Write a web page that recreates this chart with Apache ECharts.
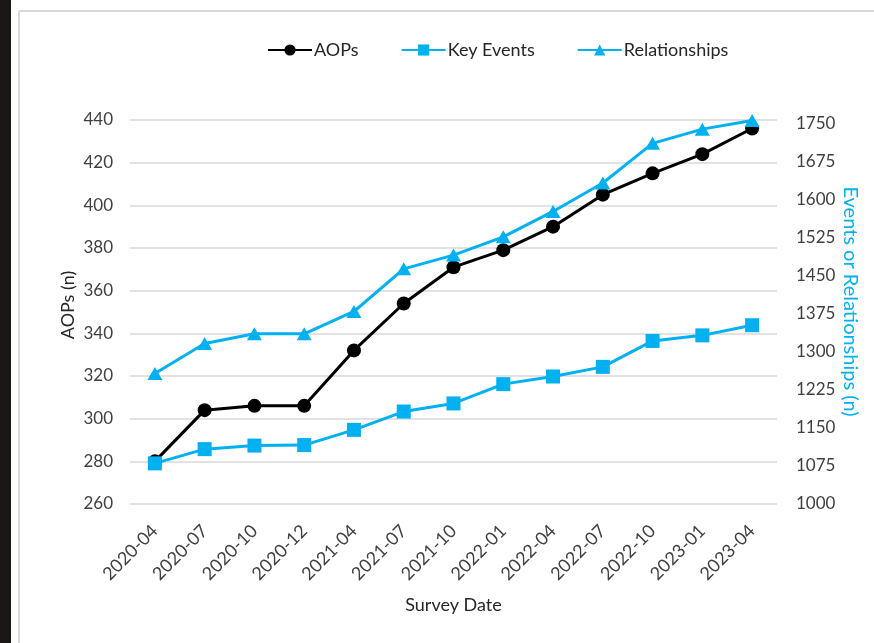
<!DOCTYPE html>
<html>
<head>
<meta charset="utf-8">
<title>AOP survey</title>
<script src="https://cdn.jsdelivr.net/npm/echarts@6/dist/echarts.min.js"></script>
<style>
  html, body { margin: 0; padding: 0; background: #fff; }
  #chart { width: 874px; height: 643px; }
</style>
</head>
<body>
<div id="chart"></div>
<script>
// survey dates (x categories)
var surveyDates = ['2020-04', '2020-07', '2020-10', '2020-12', '2021-04', '2021-07', '2021-10',
  '2022-01', '2022-04', '2022-07', '2022-10', '2023-01', '2023-04'];

// left axis
var aops = [280, 304, 306, 306, 332, 354, 371, 379, 390, 405, 415, 424, 436];
// right axis
var keyEvents = [1080, 1108, 1115, 1116, 1146, 1182, 1198, 1236, 1251, 1270, 1321, 1332, 1352];
var relationships = [1257, 1316, 1335, 1335, 1379, 1463, 1490, 1526, 1576, 1632, 1710, 1738, 1755];

var leftTicks = { min: 260, max: 440, step: 20 };
var rightTicks = { min: 1000, max: 1756, step: 75 };

var blue = '#00b0f0';
var font = 'Lato, "Open Sans", sans-serif';

var chart = echarts.init(document.getElementById('chart'));

chart.setOption({
  backgroundColor: '#fff',
  animation: false,
  textStyle: { fontFamily: font },
  // frame of the screenshot: dark strip on the left and thin grey border
  graphic: [
    { type: 'rect', shape: { x: 0, y: 0, width: 11, height: 643 }, style: { fill: '#1a1714' } },
    { type: 'line', shape: { x1: 19, y1: 11, x2: 19, y2: 643 }, style: { stroke: '#d9d9d9', lineWidth: 2 } },
    { type: 'line', shape: { x1: 19, y1: 11, x2: 874, y2: 11 }, style: { stroke: '#d9d9d9', lineWidth: 2 } }
  ],
  legend: {
    left: 262,
    top: 36,
    itemWidth: 44,
    itemHeight: 14,
    itemGap: 42,
    textStyle: { fontSize: 18, color: '#262626', padding: [0, 0, 0, -3] },
    data: ['AOPs', 'Key Events', 'Relationships']
  },
  grid: {
    left: 130,
    right: 97,
    top: 120,
    bottom: 139
  },
  xAxis: {
    type: 'category',
    data: surveyDates,
    name: 'Survey Date',
    nameLocation: 'middle',
    nameGap: 92,
    nameTextStyle: { fontSize: 18, color: '#262626' },
    axisLine: { show: false },
    axisTick: { show: false },
    axisLabel: { rotate: 45, fontSize: 18, color: '#404040', margin: 24 }
  },
  yAxis: [
    {
      type: 'value',
      min: leftTicks.min,
      max: leftTicks.max,
      interval: leftTicks.step,
      name: 'AOPs (n)',
      nameLocation: 'middle',
      nameGap: 53,
      nameMoveOverlap: false,
      nameTextStyle: { fontSize: 18, color: '#262626', padding: [0, 0, 0, 14] },
      axisLine: { show: false },
      axisTick: { show: false },
      axisLabel: { fontSize: 17, color: '#404040', margin: 17 },
      splitLine: { lineStyle: { color: '#d9d9d9', width: 1.5 } }
    },
    {
      type: 'value',
      position: 'right',
      min: rightTicks.min,
      max: rightTicks.max,
      interval: rightTicks.step,
      name: 'Events or Relationships (n)',
      nameLocation: 'middle',
      nameGap: 63,
      nameMoveOverlap: false,
      nameRotate: -90,
      nameTextStyle: { fontSize: 20, color: blue, padding: [0, 21, 0, 0] },
      axisLine: { show: false },
      axisTick: { show: false },
      axisLabel: {
        fontSize: 17, color: '#404040', margin: 19, showMaxLabel: false,
        formatter: function (v) { return String(v); }
      },
      splitLine: { show: false }
    }
  ],
  series: [
    {
      name: 'AOPs',
      type: 'line',
      yAxisIndex: 0,
      data: aops,
      symbol: 'circle',
      symbolSize: 14,
      itemStyle: { color: '#000' },
      lineStyle: { color: '#000', width: 3 }
    },
    {
      name: 'Key Events',
      type: 'line',
      yAxisIndex: 1,
      data: keyEvents,
      symbol: 'rect',
      symbolSize: 14,
      itemStyle: { color: blue },
      lineStyle: { color: blue, width: 3 }
    },
    {
      name: 'Relationships',
      type: 'line',
      yAxisIndex: 1,
      data: relationships,
      symbol: 'triangle',
      symbolSize: [15, 13],
      itemStyle: { color: blue },
      lineStyle: { color: blue, width: 3 }
    }
  ]
});
</script>
</body>
</html>
